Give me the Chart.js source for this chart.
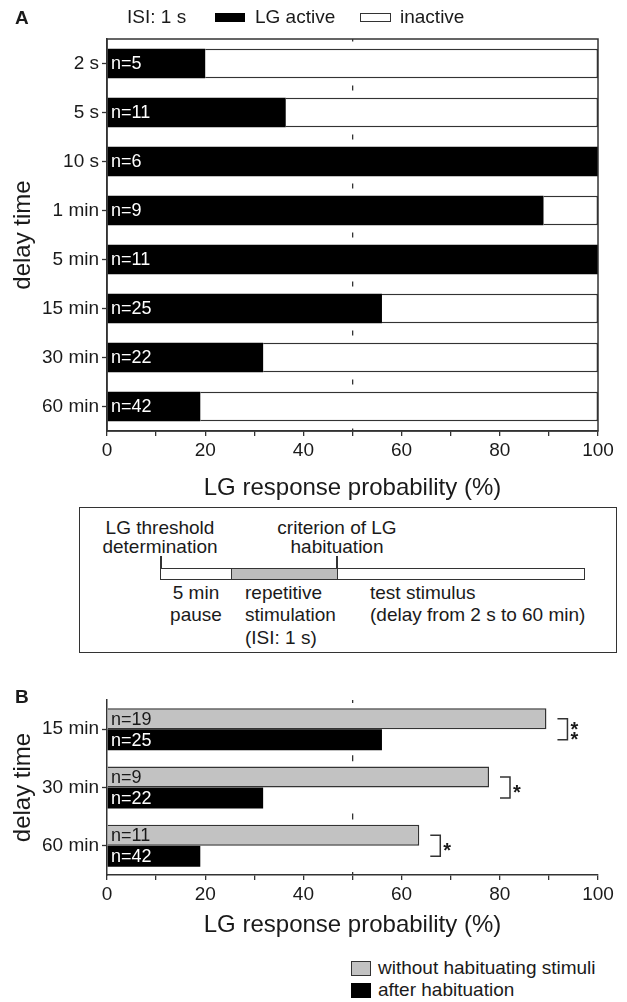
<!DOCTYPE html>
<html><head><meta charset="utf-8">
<script src="https://cdn.jsdelivr.net/npm/chart.js@4.4.0/dist/chart.umd.min.js"></script>
<style>
html,body{margin:0;padding:0;background:#fff;}
body{width:627px;height:1002px;position:relative;overflow:hidden;font-family:"Liberation Sans",Arial,sans-serif;color:#1a1a1a;}
.t{position:absolute;white-space:nowrap;font-size:19px;line-height:22px;height:22px;}
.c{text-align:center;width:240px;}
.sw{position:absolute;box-sizing:border-box;}
#cA{position:absolute;left:0;top:0;}
#cB{position:absolute;left:0;top:655px;}
</style></head><body>
<canvas id="cA" width="627" height="505"></canvas>
<canvas id="cB" width="627" height="300"></canvas>

<!-- panel A header / legend -->
<div class="t" style="left:15px;top:7px;font-weight:bold;">A</div>
<div class="t" style="left:127px;top:6px;">ISI: 1 s</div>
<div class="sw" style="left:215px;top:13px;width:30px;height:9px;background:#000;"></div>
<div class="t" style="left:255px;top:6px;">LG active</div>
<div class="sw" style="left:360px;top:13px;width:31px;height:9px;background:#fff;border:1.5px solid #333;"></div>
<div class="t" style="left:400px;top:6px;">inactive</div>

<!-- schematic box -->
<div class="sw" style="left:79px;top:507px;width:538px;height:146px;border:1.5px solid #333;"></div>
<div class="t c" style="left:40px;top:517px;">LG threshold</div>
<div class="t c" style="left:40px;top:536px;">determination</div>
<div class="t c" style="left:217px;top:517px;">criterion of LG</div>
<div class="t c" style="left:217px;top:536px;">habituation</div>
<div class="sw" style="left:160px;top:568px;width:425px;height:12px;background:#fff;border:1.5px solid #333;"></div>
<div class="sw" style="left:231px;top:568px;width:107px;height:12px;background:#bdbdbd;border:1.5px solid #333;"></div>
<div class="sw" style="left:160px;top:556px;width:1.5px;height:13px;background:#333;"></div>
<div class="sw" style="left:336px;top:556px;width:1.5px;height:13px;background:#333;"></div>
<div class="t c" style="left:76px;top:582px;">5 min</div>
<div class="t c" style="left:76px;top:604px;">pause</div>
<div class="t" style="left:245px;top:582px;">repetitive</div>
<div class="t" style="left:245px;top:604px;">stimulation</div>
<div class="t" style="left:245px;top:627px;">(ISI: 1 s)</div>
<div class="t" style="left:370px;top:582px;">test stimulus</div>
<div class="t" style="left:370px;top:604px;">(delay from 2 s to 60 min)</div>

<!-- panel B label / legend -->
<div class="t" style="left:15px;top:686px;font-weight:bold;">B</div>
<div class="sw" style="left:351px;top:961px;width:20px;height:15px;background:#c2c2c2;border:1.5px solid #333;"></div>
<div class="t" style="left:378px;top:957px;">without habituating stimuli</div>
<div class="sw" style="left:351px;top:983px;width:20px;height:15px;background:#000;"></div>
<div class="t" style="left:378px;top:979px;">after habituation</div>

<script>
// ---------- data ----------
const delayCategoriesA = ['2 s', '5 s', '10 s', '1 min', '5 min', '15 min', '30 min', '60 min'];
const activePctA = [20.0, 36.4, 100, 88.9, 100, 56.0, 31.8, 19.0];
const inactivePctA = [80.0, 63.6, 0, 11.1, 0, 44.0, 68.2, 81.0];
const nA = [5, 11, 6, 9, 11, 25, 22, 42];

const delayCategoriesB = ['15 min', '30 min', '60 min'];
const withoutHabPct = [89.5, 77.8, 63.6];
const afterHabPct = [56.0, 31.8, 19.0];
const nWithout = [19, 9, 11];
const nAfter = [25, 22, 42];
const sigMarks = ['**', '*', '*'];

const xTickLabels = [0, 20, 40, 60, 80, 100];

// ---------- styling ----------
const FONT = '"Liberation Sans", Arial, sans-serif';
const INK = '#1a1a1a';
const LINE = '#333';
Chart.defaults.font.family = FONT;
Chart.defaults.color = INK;

const nLabelPlugin = {
  id: 'nLabels',
  afterDatasetsDraw(chart, args, opts) {
    const ctx = chart.ctx, xs = chart.scales.x;
    ctx.save();
    ctx.font = '18px ' + FONT;
    ctx.textBaseline = 'middle';
    ctx.textAlign = 'left';
    (opts.sets || []).forEach(s => {
      const meta = chart.getDatasetMeta(s.ds);
      meta.data.forEach((bar, i) => {
        ctx.fillStyle = s.color;
        ctx.fillText('n=' + s.counts[i], xs.getPixelForValue(0) + 4, bar.y + 1);
      });
    });
    ctx.restore();
  }
};

const framePlugin = {
  id: 'frame',
  afterDatasetsDraw(chart, args, opts) {
    if (!opts.on) return;
    const {ctx, chartArea: a} = chart;
    ctx.save();
    ctx.strokeStyle = LINE;
    ctx.lineWidth = 1.5;
    ctx.strokeRect(a.left, a.top, a.right - a.left, a.bottom - a.top);
    ctx.restore();
  }
};

const sigPlugin = {
  id: 'sig',
  afterDatasetsDraw(chart, args, opts) {
    if (!opts.marks) return;
    const ctx = chart.ctx;
    const m0 = chart.getDatasetMeta(0), m1 = chart.getDatasetMeta(1);
    ctx.save();
    ctx.strokeStyle = LINE;
    ctx.lineWidth = 1.5;
    ctx.fillStyle = INK;
    ctx.font = 'bold 20px ' + FONT;
    ctx.textAlign = 'left';
    ctx.textBaseline = 'alphabetic';
    opts.marks.forEach((mark, i) => {
      const g = m0.data[i], b = m1.data[i];
      const x0 = g.x + 11, x1 = x0 + 10;
      ctx.beginPath();
      ctx.moveTo(x0, g.y);
      ctx.lineTo(x1, g.y);
      ctx.lineTo(x1, b.y);
      ctx.lineTo(x0, b.y);
      ctx.stroke();
      const cy = (g.y + b.y) / 2;
      const k = mark.length;
      for (let j = 0; j < k; j++) {
        const yc = cy + (j - (k - 1) / 2) * 10;
        ctx.fillText('*', x1 + 3, yc + 11.5);
      }
    });
    ctx.restore();
  }
};

function xScale(height, titlePadBottom, dash) {
  return {
    stacked: true, min: 0, max: 100,
    ticks: {
      stepSize: 10, autoSkip: false, maxRotation: 0, padding: 3, color: INK,
      font: {size: 19},
      callback: v => xTickLabels.includes(v) ? String(v) : ''
    },
    grid: {
      color: c => (c.tick && c.tick.value === 50) ? LINE : 'rgba(0,0,0,0)',
      lineWidth: 1.3, tickColor: LINE, tickLength: 5, tickWidth: 1.3, drawTicks: true
    },
    border: {display: true, color: LINE, width: 1.5, dash: dash, dashOffset: dash[0] / 2},
    title: {display: true, text: 'LG response probability (%)', color: INK,
      font: {size: 24}, padding: {top: 0, bottom: titlePadBottom}},
    afterFit: s => { s.height = height; }
  };
}
function yScale(stacked) {
  return {
    stacked: stacked, offset: true,
    ticks: {autoSkip: false, padding: 3, color: INK, font: {size: 19}},
    grid: {display: true, offset: false, drawOnChartArea: false, tickLength: 5, tickColor: LINE, tickWidth: 1.3},
    border: {display: true, color: LINE, width: 1.5},
    title: {display: true, text: 'delay time', color: INK, font: {size: 24}, padding: {top: 8.6, bottom: 0}},
    afterFit: s => { s.width = 107; }
  };
}

// ---------- panel A ----------
new Chart(document.getElementById('cA'), {
  type: 'bar',
  data: {
    labels: delayCategoriesA,
    datasets: [
      {label: 'LG active', data: activePctA, backgroundColor: '#000', borderWidth: 0,
        barPercentage: 0.6, categoryPercentage: 1, stack: 's'},
      {label: 'inactive', data: inactivePctA, backgroundColor: '#fff', borderColor: LINE, borderWidth: 1.5,
        barPercentage: 0.6, categoryPercentage: 1, stack: 's'}
    ]
  },
  options: {
    indexAxis: 'y', responsive: false, animation: false,
    layout: {padding: {top: 39, right: 29, left: 0, bottom: 0}},
    plugins: {
      legend: {display: false}, tooltip: {enabled: false},
      nLabels: {sets: [{ds: 0, counts: nA, color: '#fff'}]},
      frame: {on: true}
    },
    scales: {x: xScale(74, 2.6, [5, 44]), y: yScale(true)}
  },
  plugins: [framePlugin, nLabelPlugin]
});

// ---------- panel B ----------
new Chart(document.getElementById('cB'), {
  type: 'bar',
  data: {
    labels: delayCategoriesB,
    datasets: [
      {label: 'without habituating stimuli', data: withoutHabPct, backgroundColor: '#c2c2c2', borderColor: LINE,
        borderWidth: 1.5, barPercentage: 1, categoryPercentage: 0.72},
      {label: 'after habituation', data: afterHabPct, backgroundColor: '#000', borderWidth: 0,
        barPercentage: 1, categoryPercentage: 0.72}
    ]
  },
  options: {
    indexAxis: 'y', responsive: false, animation: false,
    layout: {padding: {top: 45, right: 29, left: 0, bottom: 0}},
    plugins: {
      legend: {display: false}, tooltip: {enabled: false},
      nLabels: {sets: [{ds: 0, counts: nWithout, color: INK}, {ds: 1, counts: nAfter, color: '#fff'}]},
      sig: {marks: sigMarks}
    },
    scales: {
      x: Object.assign(xScale(80, 15.6, [6, 52.3]), {stacked: false}),
      y: yScale(false)
    }
  },
  plugins: [nLabelPlugin, sigPlugin]
});
</script>
</body></html>
